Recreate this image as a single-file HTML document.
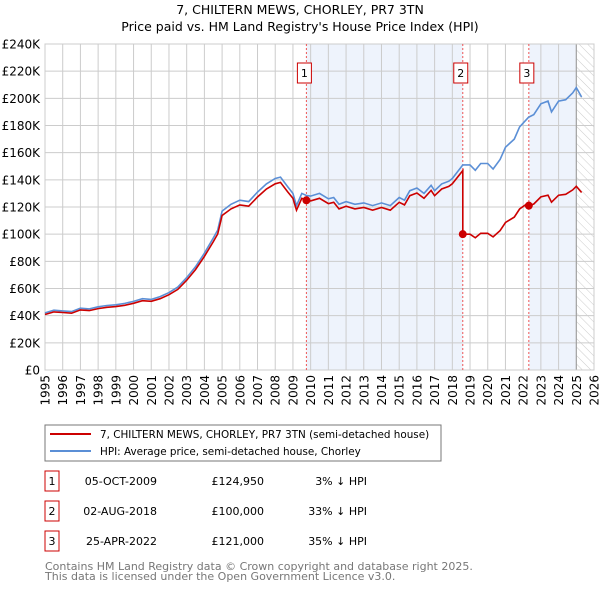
<!DOCTYPE html>
<html><head><meta charset="utf-8"><style>
body{margin:0;background:#fff;font-family:"Liberation Sans","DejaVu Sans",sans-serif;}
svg text{font-family:"DejaVu Sans","Liberation Sans",sans-serif;}
</style></head><body>
<svg id="c" width="600" height="590" viewBox="0 0 600 590" xmlns="http://www.w3.org/2000/svg">
<defs><pattern id="hatch" width="6" height="6" patternUnits="userSpaceOnUse" patternTransform="rotate(-45)"><line x1="0" y1="0" x2="0" y2="6" stroke="#ccc" stroke-width="1"/></pattern></defs>
<text x="300" y="14" text-anchor="middle" font-size="12.5">7, CHILTERN MEWS, CHORLEY, PR7 3TN</text>
<text x="300" y="31" text-anchor="middle" font-size="12.5">Price paid vs. HM Land Registry's House Price Index (HPI)</text>
<g id="plot"></g>
<rect x="45" y="425" width="396" height="36" fill="#fff" stroke="#777"/>
<line x1="50" y1="434" x2="91" y2="434" stroke="#cc0000" stroke-width="2"/>
<text x="100" y="438" font-size="10.4">7, CHILTERN MEWS, CHORLEY, PR7 3TN (semi-detached house)</text>
<line x1="50" y1="451" x2="91" y2="451" stroke="#5b8fd6" stroke-width="2"/>
<text x="100" y="455" font-size="10.4">HPI: Average price, semi-detached house, Chorley</text>
<g id="table" font-size="11"></g>
<text x="45" y="570" font-size="11" fill="#777">Contains HM Land Registry data © Crown copyright and database right 2025.</text>
<text x="45" y="580" font-size="11" fill="#777">This data is licensed under the Open Government Licence v3.0.</text>
</svg>
<script>
const hpiYears=[1995,1995.5,1996,1996.5,1997,1997.5,1998,1998.5,1999,1999.5,2000,2000.5,2001,2001.5,2002,2002.5,2003,2003.5,2004,2004.5,2004.75,2005,2005.5,2006,2006.5,2007,2007.5,2008,2008.3,2008.7,2009,2009.2,2009.5,2009.76,2010,2010.5,2011,2011.3,2011.6,2012,2012.5,2013,2013.5,2014,2014.5,2015,2015.3,2015.6,2016,2016.4,2016.8,2017,2017.4,2017.8,2018,2018.59,2019,2019.3,2019.6,2020,2020.3,2020.7,2021,2021.5,2021.8,2022.3,2022.6,2023,2023.4,2023.6,2024,2024.4,2024.8,2025,2025.3];
const hpiValues=[42,44,43.5,43,45.5,45,46.5,47.5,48,49,50.5,52.5,52,54,57,61,68,76,86,97,103,117,122,125,124,131,137,141,142,135,130,121,130,128.5,128,130,126,127,122,124,122,123,121,123,121,127,125,132,134,130,136,132,137,139,141,151,151,147,152,152,148,155,164,170,179,186,188,196,198,190,198,199,204,208,201];
const saleYears=[2009.76,2018.59,2022.32];
const salePrices=[124.95,100,121];
const saleLabels=["1","2","3"];
const saleDates=["05-OCT-2009","02-AUG-2018","25-APR-2022"];
const salePriceText=["£124,950","£100,000","£121,000"];
const saleHpiText=["3% ↓ HPI","33% ↓ HPI","35% ↓ HPI"];
const yTicks=[0,20,40,60,80,100,120,140,160,180,200,220,240];
const xTicks=[1995,1996,1997,1998,1999,2000,2001,2002,2003,2004,2005,2006,2007,2008,2009,2010,2011,2012,2013,2014,2015,2016,2017,2018,2019,2020,2021,2022,2023,2024,2025,2026];
const X0=45,X1=594,Y0=370,Y1=44;
const sx=t=>X0+(t-1995)/(2026-1995)*(X1-X0);
const sy=v=>Y0-v/240*(Y0-Y1);
const NS="http://www.w3.org/2000/svg";
const plot=document.getElementById('plot');
function mk(tag,attrs,parent){const e=document.createElementNS(NS,tag);for(const k in attrs)e.setAttribute(k,attrs[k]);(parent||plot).appendChild(e);return e;}
function hpiAt(t){for(let i=0;i<hpiYears.length-1;i++){if(t<=hpiYears[i+1]){const f=(t-hpiYears[i])/(hpiYears[i+1]-hpiYears[i]);return hpiValues[i]+f*(hpiValues[i+1]-hpiValues[i]);}}return hpiValues[hpiValues.length-1];}
let e;
e=mk('rect',{x:X0,y:Y1,width:X1-X0,height:Y0-Y1,fill:'#fff'});


const shadeEnd=2025.0;
e=mk('rect',{x:sx(saleYears[0]),y:Y1,width:sx(saleYears[1])-sx(saleYears[0]),height:Y0-Y1,fill:'#eef3fc'});


e=mk('rect',{x:sx(saleYears[2]),y:Y1,width:sx(shadeEnd)-sx(saleYears[2]),height:Y0-Y1,fill:'#eef3fc'});


e=mk('rect',{x:sx(shadeEnd),y:Y1,width:X1-sx(shadeEnd),height:Y0-Y1,fill:'url(#hatch)'});


yTicks.forEach(v=>{
 e=mk('line',{x1:X0,x2:X1,y1:sy(v),y2:sy(v),stroke:'#ccc','stroke-width':1});
 
 
 e=mk('text',{x:40,y:sy(v)+4.5,'text-anchor':'end','font-size':12});
 e.textContent=v===0?'£0':'£'+v+'K';
 
 
});
xTicks.forEach(t=>{
 e=mk('line',{x1:sx(t),x2:sx(t),y1:Y1,y2:Y0,stroke:'#ccc','stroke-width':1});
 
 
 const lx=sx(t)+4.5,ly=375;
 e=mk('text',{x:lx,y:ly,'text-anchor':'end','font-size':12,transform:'rotate(-90 '+lx+' '+ly+')'});
 e.textContent=t;
 
 
});
e=mk('line',{x1:sx(shadeEnd),x2:sx(shadeEnd),y1:Y1,y2:Y0,stroke:'#999','stroke-width':1});


e=mk('rect',{x:X0,y:Y1,width:X1-X0,height:Y0-Y1,fill:'none',stroke:'#ccc'});


saleYears.forEach((t,i)=>{
 e=mk('line',{x1:sx(t),x2:sx(t),y1:Y1,y2:Y0,stroke:'#e55','stroke-width':1,'stroke-dasharray':'2,2'});
 
 
 e=mk('rect',{x:sx(t)-9,y:63,width:14,height:20,fill:'#fff',stroke:'#c00'});
 
 
 e=mk('text',{x:sx(t)-2,y:77,'text-anchor':'middle','font-size':11});
 e.textContent=saleLabels[i];
 
 
});
let d='';
hpiYears.forEach((t,i)=>{d+=(i?'L':'M')+sx(t).toFixed(1)+','+sy(hpiValues[i]).toFixed(1);});
e=mk('path',{d:d,fill:'none',stroke:'#5b8fd6','stroke-width':1.6});


function ratioAt(t){let k=0;for(let i=0;i<saleYears.length;i++){if(t>=saleYears[i])k=i;}return salePrices[k]/hpiAt(saleYears[k]);}
const pts=[];
hpiYears.forEach((t,i)=>{
 saleYears.forEach((s,k)=>{if(k>0&&i>0&&s>hpiYears[i-1]&&s<=t){pts.push([s-0.001,hpiAt(s)*salePrices[k-1]/hpiAt(saleYears[k-1])]);pts.push([s,salePrices[k]]);}});
 pts.push([t,hpiValues[i]*ratioAt(t)]);
});
d='';
pts.forEach((p,i)=>{d+=(i?'L':'M')+sx(p[0]).toFixed(1)+','+sy(p[1]).toFixed(1);});
e=mk('path',{d:d,fill:'none',stroke:'#cc0000','stroke-width':1.6});


saleYears.forEach((t,i)=>{
 e=mk('circle',{cx:sx(t),cy:sy(salePrices[i]),r:4,fill:'#cc0000'});
 
 
});
const tb=document.getElementById('table');
saleYears.forEach((t,i)=>{
 const y=483+i*30;
 e=mk('rect',{x:45,y:y-12,width:14,height:20,fill:'#fff',stroke:'#c00'},tb);
 
 
 e=mk('text',{x:52,y:y+2,'text-anchor':'middle'},tb);e.textContent=saleLabels[i];
 
 
 e=mk('text',{x:157,y:y+2,'text-anchor':'end'},tb);e.textContent=saleDates[i];
 
 
 e=mk('text',{x:264,y:y+2,'text-anchor':'end'},tb);e.textContent=salePriceText[i];
 
 
 e=mk('text',{x:367,y:y+2,'text-anchor':'end'},tb);e.textContent=saleHpiText[i];
 
 
});
</script>
</body></html>
